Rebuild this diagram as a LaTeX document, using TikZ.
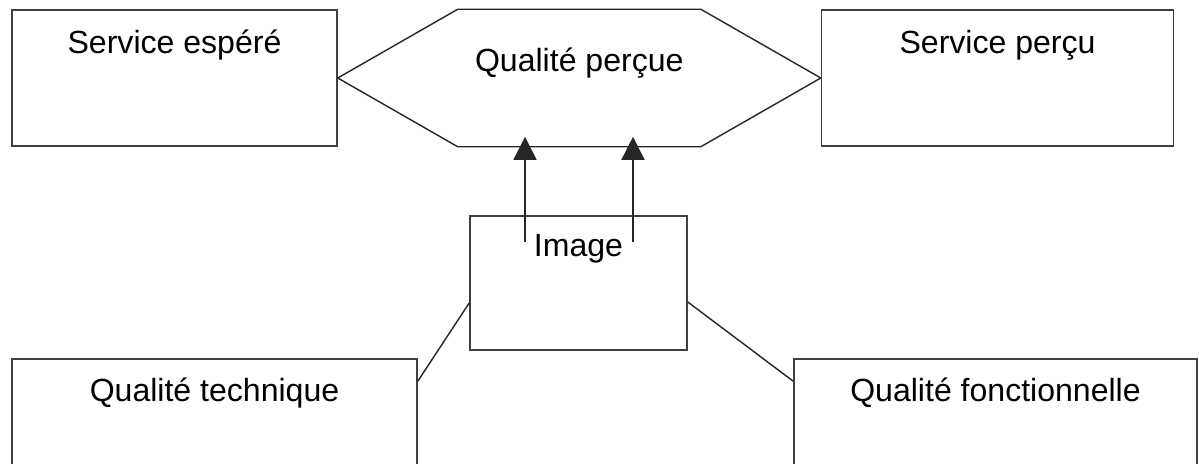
\documentclass[tikz,border=0pt]{standalone}
\usepackage{fontspec}
\setmainfont{Liberation Sans}
\usetikzlibrary{positioning, calc, arrows.meta}

\tikzset{
	box/.style={draw=black!75, line width=1.1pt, minimum width=#1, minimum height=3.4cm, inner sep=0pt},
	link/.style={draw=black!85, line width=1pt},
	arr/.style={link, -{Triangle[length=0.575cm, width=0.575cm]}},
	lbl/.style={anchor=base, inner sep=0pt, font=\fontsize{22.8}{27}\selectfont}
}

\begin{document}
\begin{tikzpicture}
	\useasboundingbox (0,0) rectangle (29.975,11.575);
	\clip (0,0) rectangle (29.975,11.575);

	\node[box=8.125cm] (esp) at (4.3625,9.625) {};
	\node[box=8.8cm, right=12.075cm of esp] (per) {};
	\node[box=5.425cm, minimum height=3.35cm] (img) at (14.4625,4.5) {};
	\node[box=10.125cm] (qt) at (5.3625,0.9) {};
	\node[box=10.075cm] (qf) at (24.8875,0.9) {};

	% hexagon between the two upper boxes
	\coordinate (htl) at ([xshift=3cm]esp.north east);
	\coordinate (hbl) at ([xshift=3cm]esp.south east);
	\coordinate (htr) at ([xshift=-3cm]per.north west);
	\coordinate (hbr) at ([xshift=-3cm]per.south west);
	\draw[link] (esp.east) -- (htl) -- (htr) -- (per.west) -- (hbr) -- (hbl) -- cycle;
	\path (esp.east) -- (per.west) coordinate[midway] (hc);

	\node[lbl] (esptxt) at ([yshift=-1.1cm]esp.north) {Service espéré};
	\node[lbl] (pertxt) at ([yshift=-1.1cm]per.north) {Service perçu};
	\node[lbl] (hextxt) at ([yshift=0.15cm]hc) {Qualité perçue};
	\node[lbl] (imgtxt) at ([yshift=-1.025cm]img.north) {Image};
	\node[lbl] (qttxt) at ([yshift=-1.075cm]qt.north) {Qualité technique};
	\node[lbl] (qftxt) at ([yshift=-1.075cm]qf.north) {Qualité fonctionnelle};

	% arrows from Image up into the hexagon
	\coordinate (a1) at ([xshift=-1.3375cm, yshift=-0.675cm]img.north);
	\coordinate (a2) at ([xshift=1.3625cm, yshift=-0.675cm]img.north);
	\foreach \a in {a1, a2}
		\draw[arr] (\a) -- ($(\a |- hbl)+(0,0.25)$);

	% side links down to the lower boxes
	\coordinate (ql) at ([yshift=-0.575cm]qt.north east);
	\coordinate (qr) at ([yshift=-0.575cm]qf.north west);
	\draw[link] ([yshift=-0.5cm]img.west) -- (ql);
	\draw[link] ([yshift=-0.475cm]img.east) -- (qr);
\end{tikzpicture}
\end{document}
